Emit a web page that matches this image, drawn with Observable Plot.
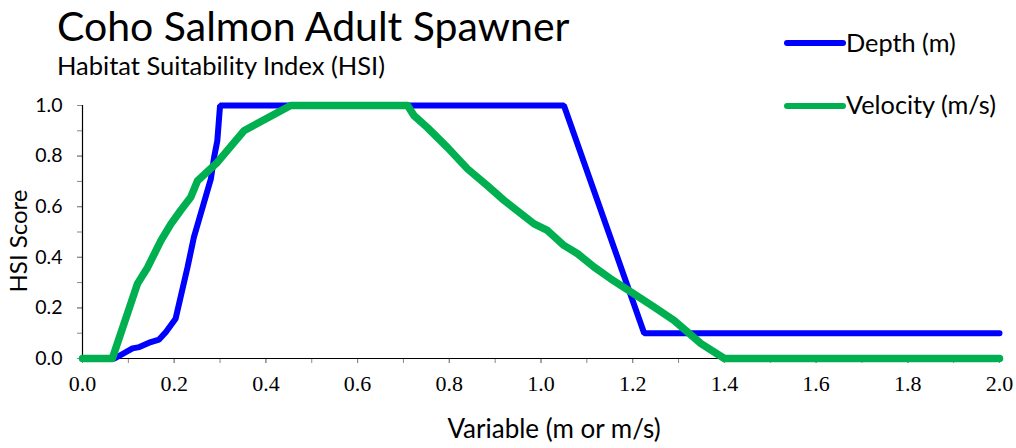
<!DOCTYPE html>
<html><head><meta charset="utf-8">
<script src="https://cdn.jsdelivr.net/npm/d3@7"></script>
<script src="https://cdn.jsdelivr.net/npm/@observablehq/plot@0.6"></script>
<style>
body{margin:0;background:#fff;}
#wrap{width:1016px;height:448px;}
</style></head><body><div id="wrap"></div>
<script>
// ---- data ----
const depthX   = [0, 0.07, 0.109, 0.124, 0.149, 0.167, 0.182, 0.203, 0.229, 0.243, 0.28, 0.287, 0.294, 0.30, 1.05, 1.225, 2.0];
const depthHSI = [0, 0,    0.04,  0.045, 0.065, 0.075, 0.105, 0.157, 0.36,  0.48,  0.71, 0.795, 0.86,  1.0,  1.0,  0.1,   0.1];

const velocityX   = [0, 0.065, 0.12, 0.142, 0.171, 0.193, 0.214, 0.236, 0.251, 0.294, 0.352, 0.454, 0.709, 0.723, 0.752, 0.796, 0.84, 0.883, 0.92, 0.985, 1.014, 1.05, 1.08, 1.116, 1.152, 1.196, 1.247, 1.29, 1.349, 1.40, 2.0];
const velocityHSI = [0, 0,     0.296, 0.36, 0.466, 0.532, 0.585, 0.637, 0.703, 0.775, 0.90,  1.0,   1.0,   0.96,  0.913, 0.834, 0.749, 0.683, 0.624, 0.532, 0.506, 0.447, 0.414, 0.361, 0.315, 0.263, 0.203, 0.151, 0.059, 0, 0];

const seriesNames = ["Depth (m)", "Velocity (m/s)"];
const seriesColors = ["#0000FF", "#00B050"];

const xMinorTicks = [0,0.1,0.2,0.3,0.4,0.5,0.6,0.7,0.8,0.9,1.0,1.1,1.2,1.3,1.4,1.5,1.6,1.7,1.8,1.9,2.0];
const xMajorTicks = [0,0.2,0.4,0.6,0.8,1.0,1.2,1.4,1.6,1.8,2.0];
const yMinorTicks = [0,0.1,0.2,0.3,0.4,0.5,0.6,0.7,0.8,0.9,1.0];
const yMajorTicks = [0,0.2,0.4,0.6,0.8,1.0];

const titleText = "Coho Salmon Adult Spawner";
const subtitleText = "Habitat Suitability Index (HSI)";
const xLabel = "Variable (m or m/s)";
const yLabel = "HSI Score";

// ---- build ----
const depthRows = depthX.map((x, i) => ({x, y: depthHSI[i]}));
const velRows = velocityX.map((x, i) => ({x, y: velocityHSI[i]}));
const fmt = d3.format(".1f");
const sans = "Lato, 'Open Sans', sans-serif";
const serif = "'Liberation Serif', 'DejaVu Serif', serif";

const chart = Plot.plot({
  width: 1016, height: 448,
  marginLeft: 82, marginRight: 17, marginTop: 105, marginBottom: 90,
  x: {domain: [0, 2]},
  y: {domain: [0, 1]},
  style: {background: "white", overflow: "visible"},
  marks: [
    Plot.axisY({ticks: yMinorTicks, tickSize: 5, tickFormat: () => "", stroke: "#888", label: null}),
    Plot.axisY({ticks: yMajorTicks, tickSize: 5, tickPadding: 15, tickFormat: fmt, stroke: "#888", fill: "#000", fontSize: 19.5, fontFamily: sans, label: null}),
    Plot.axisX({ticks: xMinorTicks, tickSize: 5, tickFormat: () => "", stroke: "#888", label: null}),
    Plot.axisX({ticks: xMajorTicks, tickSize: 5, tickPadding: 12, tickFormat: fmt, stroke: "#888", fill: "#000", fontSize: 22, fontFamily: serif, label: null}),
    Plot.ruleX([0], {stroke: "#000", strokeWidth: 1.2}),
    Plot.ruleY([0], {stroke: "#000", strokeWidth: 1.2}),
    Plot.line(depthRows, {x: "x", y: "y", stroke: seriesColors[0], strokeWidth: 6, strokeLinecap: "round", strokeLinejoin: "miter"}),
    Plot.line(velRows, {x: "x", y: "y", stroke: seriesColors[1], strokeWidth: 7.5, strokeLinecap: "round", strokeLinejoin: "round"})
  ]
});

const svg = d3.select(chart);
const g = svg.append("g").attr("text-anchor", "start").attr("font-family", sans).attr("fill", "#000");
g.append("text").attr("x", 57).attr("y", 41).attr("font-size", 41).text(titleText);
g.append("text").attr("x", 57).attr("y", 75).attr("font-size", 25.5).text(subtitleText);
g.append("text").attr("x", 554).attr("y", 438).attr("text-anchor", "middle").attr("font-size", 26).text(xLabel);
g.append("text").attr("transform", "translate(27,241) rotate(-90)").attr("text-anchor", "middle").attr("font-size", 24).text(yLabel);

const legendY = [43, 106];
const legendBase = [52, 114];
seriesNames.forEach((name, i) => {
  g.append("line").attr("x1", 787).attr("x2", 843).attr("y1", legendY[i]).attr("y2", legendY[i])
    .attr("stroke", seriesColors[i]).attr("stroke-width", 6).attr("stroke-linecap", "round");
  g.append("text").attr("x", 846).attr("y", legendBase[i]).attr("font-size", 25.3).text(name);
});

document.getElementById("wrap").appendChild(chart);
</script>
</body></html>
